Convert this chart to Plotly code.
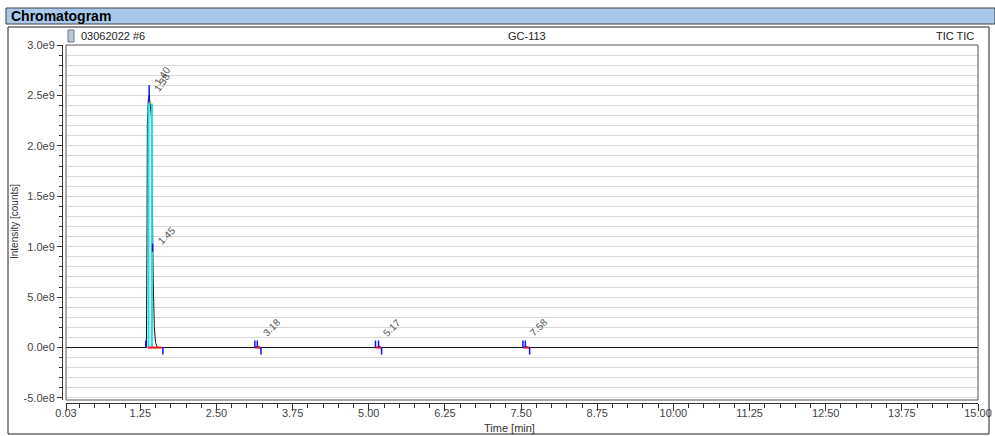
import plotly.graph_objects as go

# ---------------- data ----------------
time_min = [0.03, 1.35, 1.36, 1.365, 1.38, 1.395, 1.41, 1.43, 1.44, 1.45,
            1.46, 1.47, 1.48, 1.50, 1.53, 3.14, 3.17, 3.18, 3.19, 3.22, 5.13, 5.16,
            5.17, 5.18, 5.21, 7.54, 7.57, 7.58, 7.59, 7.62, 15.00]
intensity = [0, 0, 1.2e9, 2.2e9, 2.45e9, 2.5e9, 2.42e9, 2.3e9, 2.0e9, 1.0e9,
             0.7e9, 0.45e9, 0.2e9, 0.05e9, 0, 0, 0.01e9, 0.015e9, 0.01e9, 0, 0, 0.01e9,
             0.015e9, 0.01e9, 0, 0, 0.01e9, 0.015e9, 0.01e9, 0, 0]

cyan_t = [1.385, 1.44]
cyan_top = [2.42e9, 2.42e9]

apex_t = [1.395, 1.45]
apex_lo = [2.44e9, 0.95e9]
apex_hi = [2.60e9, 1.03e9]

start_ticks_t = [1.34, 3.13, 3.17, 5.11, 5.16, 7.53, 7.57]
end_ticks_t = [1.62, 3.23, 5.21, 7.64]
baseline_start = [1.37, 3.13, 5.11, 7.53]
baseline_end = [1.60, 3.23, 5.21, 7.64]
tick_h = 0.07e9

label_text = ["1.40", "1.38", "1.45", "3.18", "5.17", "7.58"]
label_t = [1.40, 1.39, 1.46, 3.18, 5.16, 7.56]
label_y = [2.56e9, 2.49e9, 0.97e9, 0.06e9, 0.06e9, 0.06e9]
label_angle = [-55, -55, -45, -45, -45, -45]

x_tickvals = [0.03, 1.25, 2.50, 3.75, 5.00, 6.25, 7.50, 8.75, 10.00, 11.25, 12.50, 13.75, 15.00]
x_ticktext = ["0.03", "1.25", "2.50", "3.75", "5.00", "6.25", "7.50", "8.75", "10.00",
              "11.25", "12.50", "13.75", "15.00"]
y_tickvals = [3.0e9, 2.5e9, 2.0e9, 1.5e9, 1.0e9, 5.0e8, 0, -5.0e8]
y_ticktext = ["3.0e9", "2.5e9", "2.0e9", "1.5e9", "1.0e9", "5.0e8", "0.0e0", "-5.0e8"]

# ---------------- layout geometry ----------------
FW, FH = 995, 436
ML, MR, MT, MB = 62, 17, 45, 33
PW = FW - ML - MR
PH = FH - MT - MB


def px(x):
    return (x - ML) / PW


def py(y):
    return (FH - MB - y) / PH


FONT = "Liberation Sans, Arial, sans-serif"
BLUE = "#1010ff"

fig = go.Figure()

# chromatogram
fig.add_trace(go.Scatter(x=time_min, y=intensity, mode="lines",
                         line=dict(color="#111111", width=1), hoverinfo="skip"))

# cyan lines
cx, cy = [], []
for t, top in zip(cyan_t, cyan_top):
    cx += [t, t, None]
    cy += [0, top, None]
fig.add_trace(go.Scatter(x=cx, y=cy, mode="lines", line=dict(color="#22dde0", width=2),
                         hoverinfo="skip"))

# red baselines
rx, ry = [], []
for a, b in zip(baseline_start, baseline_end):
    rx += [a, b, None]
    ry += [0, 0, None]
fig.add_trace(go.Scatter(x=rx, y=ry, mode="lines", line=dict(color="#ff1010", width=2),
                         hoverinfo="skip"))

# blue markers
bx, by = [], []
for t in start_ticks_t:
    bx += [t, t, None]
    by += [0, tick_h, None]
for t in end_ticks_t:
    bx += [t, t, None]
    by += [0, -tick_h, None]
for t, lo, hi in zip(apex_t, apex_lo, apex_hi):
    bx += [t, t, None]
    by += [lo, hi, None]
fig.add_trace(go.Scatter(x=bx, y=by, mode="lines", line=dict(color=BLUE, width=1.5),
                         hoverinfo="skip"))

# peak labels
for txt, t, y, ang in zip(label_text, label_t, label_y, label_angle):
    fig.add_annotation(x=t, y=y, xref="x", yref="y", text=txt, showarrow=False,
                       textangle=ang, xanchor="left", yanchor="bottom",
                       font=dict(family=FONT, size=10, color="#555555"))

shapes = []
# title bar
shapes.append(dict(type="rect", xref="paper", yref="paper", x0=px(6), x1=px(995),
                   y0=py(24), y1=py(8), fillcolor="#a8c9ee",
                   line=dict(color="#404040", width=1), layer="below"))
# outer box
shapes.append(dict(type="rect", xref="paper", yref="paper", x0=px(8), x1=px(989),
                   y0=py(434), y1=py(27), fillcolor="rgba(0,0,0,0)",
                   line=dict(color="#202020", width=1)))
# plot frame
shapes.append(dict(type="rect", xref="x domain", yref="y domain", x0=0, x1=1, y0=0, y1=1,
                   line=dict(color="#555555", width=1)))
# small icon
shapes.append(dict(type="rect", xref="paper", yref="paper", x0=px(68), x1=px(74),
                   y0=py(42), y1=py(30), fillcolor="#b8c8d8",
                   line=dict(color="#707880", width=1)))

fig.update_layout(shapes=shapes)

fig.add_annotation(xref="paper", yref="paper", x=px(9), y=py(16), text="<b>Chromatogram</b>",
                   showarrow=False, xanchor="left", yanchor="middle",
                   font=dict(family=FONT, size=14, color="#000000"))
fig.add_annotation(xref="paper", yref="paper", x=px(79), y=py(36), text="03062022 #6",
                   showarrow=False, xanchor="left", yanchor="middle",
                   font=dict(family=FONT, size=11, color="#222222"))
fig.add_annotation(xref="paper", yref="paper", x=px(527), y=py(36), text="GC-113",
                   showarrow=False, xanchor="center", yanchor="middle",
                   font=dict(family=FONT, size=11, color="#222222"))
fig.add_annotation(xref="paper", yref="paper", x=px(976), y=py(36), text="TIC TIC",
                   showarrow=False, xanchor="right", yanchor="middle",
                   font=dict(family=FONT, size=11, color="#222222"))
# axis titles
fig.add_annotation(xref="paper", yref="paper", x=px(509), y=py(428), text="Time [min]",
                   showarrow=False, xanchor="center", yanchor="middle",
                   font=dict(family=FONT, size=11, color="#333333"))
fig.add_annotation(xref="paper", yref="paper", x=px(15), y=py(222), text="Intensity [counts]",
                   showarrow=False, xanchor="center", yanchor="middle", textangle=-90,
                   font=dict(family=FONT, size=10, color="#333333"))

fig.update_layout(
    width=FW, height=FH,
    margin=dict(l=ML, r=MR, t=MT, b=MB, pad=0, autoexpand=False),
    paper_bgcolor="white", plot_bgcolor="white",
    showlegend=False,
    font=dict(family=FONT, size=11, color="#444444"),
    xaxis=dict(
        domain=[px(66), 1], anchor="free", position=0, automargin=False,
        range=[0.03, 15.0], tickmode="array", tickvals=x_tickvals, ticktext=x_ticktext,
        ticks="outside", ticklen=7, tickcolor="#333333", showline=True, linecolor="#333333",
        showgrid=False, zeroline=False, ticklabelstandoff=-7,
        minor=dict(tickmode="linear", tick0=0, dtick=0.25, ticks="outside", ticklen=4,
                   tickcolor="#333333", showgrid=False),
        tickfont=dict(size=11, color="#444444"),
    ),
    yaxis=dict(
        domain=[py(400), 1], anchor="free", position=0, automargin=False,
        range=[-5.2e8, 3.0e9], tickmode="array", tickvals=y_tickvals, ticktext=y_ticktext,
        ticks="outside", ticklen=5, tickcolor="#333333", showline=True, linecolor="#333333",
        showgrid=True, gridcolor="#d9d9d9", gridwidth=1.2, zeroline=False,
        minor=dict(tickmode="linear", tick0=0, dtick=1e8, ticks="outside", ticklen=3,
                   tickcolor="#333333", showgrid=True, gridcolor="#d9d9d9", gridwidth=1.2),
        tickfont=dict(size=11, color="#444444"),
    ),
)

fig.write_html("out.html", config={"displayModeBar": False},
               post_script="document.body.style.margin='0';document.body.style.padding='0';")
